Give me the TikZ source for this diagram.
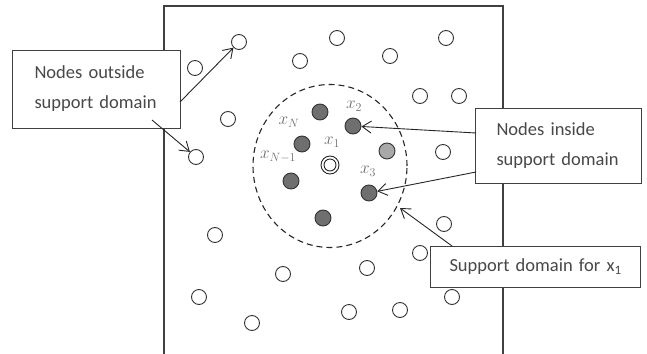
\documentclass[tikz,border=0pt]{standalone}
\usepackage{fontspec}
\setmainfont{Carlito}
\usetikzlibrary{arrows.meta,shapes.geometric}
\definecolor{txt}{HTML}{484848}
\definecolor{lbl}{HTML}{707070}
\definecolor{dk}{HTML}{6F6F6F}
\definecolor{lt}{HTML}{A8A8A8}
\begin{document}
\begin{tikzpicture}[x=1pt,y=-1pt,
  open/.style={circle,draw=black!80,line width=0.9pt,fill=white,minimum size=15pt,inner sep=0pt},
  inn/.style={circle,draw=black!80,line width=0.9pt,fill=dk,minimum size=16pt,inner sep=0pt},
  innl/.style={circle,draw=black!80,line width=0.9pt,fill=lt,minimum size=16pt,inner sep=0pt},
  callout/.style={draw=black!75,line width=0.9pt,fill=white,align=left,text=txt,font=\fontsize{18.5}{30}\selectfont,inner sep=0pt},
  lab/.style={text=lbl,font=\fontsize{18.5}{18.5}\selectfont,inner sep=0pt},
  arr/.style={-{Straight Barb[length=9pt,width=12pt]},line width=0.9pt,black!85}]
\useasboundingbox (0,0) rectangle (647,353);
\fill[white] (0,0) rectangle (647,353);
% domain rectangle (open at bottom)
\draw[black!75,line width=1.2pt] (164,360) -- (164,6) -- (503,6) -- (503,360);
% support domain
\node[ellipse,draw=black!85,dash pattern=on 6pt off 4pt,line width=1.1pt,minimum width=154pt,minimum height=163pt,inner sep=0pt] (dom) at (330,166) {};
% open nodes
\foreach \n/\x/\y in {o1/239/42,o2/195/68,o3/337/38,o4/300/61,o5/390/56,o6/446/38,o7/420/96,o8/459/96,o9/228/119,o10/196/157,o11/443/152,o12/444/224,o13/215/235,o14/420/253,o15/283/274,o16/367/268,o17/452/297,o18/199/297,o19/252/323,o20/349/312,o21/400/310}
  \node[open] (\n) at (\x,\y) {};
% inner nodes
\node[inn] (a) at (320,112) {};
\node[inn] (x2) at (353,126) {};
\node[inn] (xN) at (302,144) {};
\node[inn] (xN1) at (291,181) {};
\node[inn] (x3) at (369,193) {};
\node[inn] (b) at (323,218) {};
\node[innl] (c) at (387,151) {};
\node[circle,draw=black!85,line width=0.9pt,fill=white,minimum size=18pt,inner sep=0pt] (x1) at (330,165) {};
\node[circle,draw=black!85,line width=0.9pt,minimum size=12pt,inner sep=0pt] (x1in) at (330,165) {};
% labels
\node[lab] (l2) at (354,106) {$x_2$};
\node[lab] (lN) at (289,122) {$x_N$};
\node[lab] (l1) at (332,142) {$x_1$};
\node[lab] (lN1) at (278,157) {$x_{N-1}$};
\node[lab] (l3) at (368,171) {$x_3$};
% callouts
\node[callout,minimum width=168pt,minimum height=78pt,text width=153pt] (out) at (96,89) {\hspace*{15pt}Nodes outside\\\hspace*{15pt}support domain};
\node[callout,minimum width=166pt,minimum height=75pt,text width=151pt] (in) at (558,146) {\hspace*{14pt}Nodes inside\\\hspace*{14pt}support domain};
\node[callout,minimum width=210pt,minimum height=41pt,text width=197pt] (sd) at (535,266.5) {\hspace*{13pt}Support domain for x\textsubscript{1}};
% arrows
\coordinate (s1) at (180,102);
\coordinate (s2) at (152,120);
\coordinate (s3) at (476,133);
\coordinate (s4) at (476,172);
\coordinate (s5) at (452,246);
\draw[arr] (s1) -- (o1);
\draw[arr] (s2) -- (o10);
\draw[arr] (s3) -- (x2);
\draw[arr] (s4) -- (x3);
\draw[arr] (s5) -- (400,208);
\end{tikzpicture}
\end{document}
